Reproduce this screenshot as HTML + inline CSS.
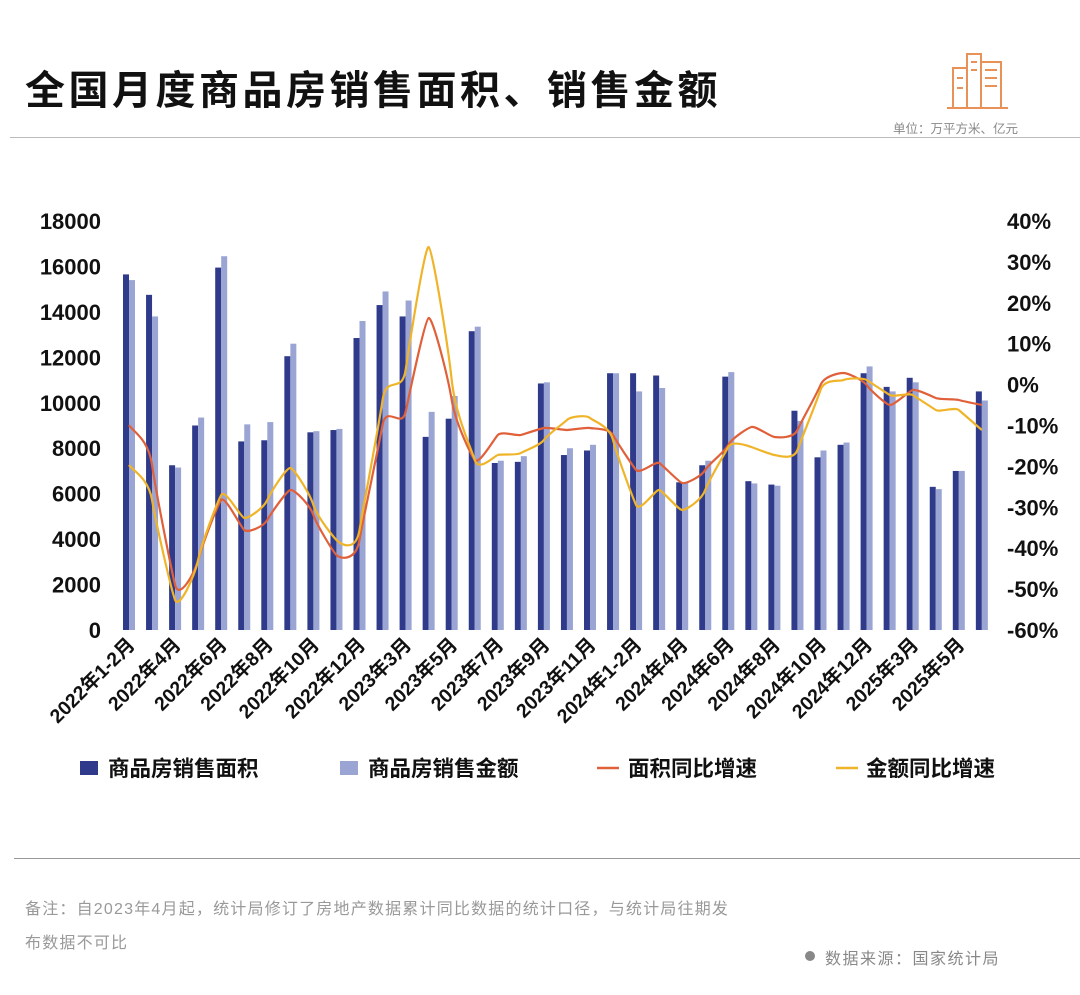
<!DOCTYPE html>
<html><head><meta charset="utf-8"><style>
body{margin:0;width:1080px;height:995px;background:#fff;font-family:"Liberation Sans","Noto Sans CJK SC",sans-serif;overflow:hidden;position:relative}
.t{position:absolute;white-space:nowrap}
</style></head><body>
<div class="t" style="left:25px;top:58px;font-size:40px;font-weight:bold;color:#111;letter-spacing:3.5px">全国月度商品房销售面积、销售金额</div>
<div style="position:absolute;left:10px;top:137px;width:1070px;height:1px;background:#bbb"></div>
<div class="t" style="left:893px;top:118px;font-size:12.5px;color:#888">单位：万平方米、亿元</div>
<svg style="position:absolute;left:945px;top:48px" width="65" height="62" viewBox="0 0 65 62" fill="none" stroke="#e8925a" stroke-width="2">
<rect x="8" y="20" width="14" height="40"/><rect x="22" y="6" width="14" height="54"/><rect x="36" y="14" width="20" height="46"/>
<line x1="26" y1="14" x2="32" y2="14"/><line x1="26" y1="22" x2="32" y2="22"/><line x1="40" y1="22" x2="52" y2="22"/><line x1="40" y1="30" x2="52" y2="30"/><line x1="40" y1="38" x2="52" y2="38"/><line x1="12" y1="30" x2="18" y2="30"/><line x1="12" y1="40" x2="18" y2="40"/><line x1="2" y1="60" x2="63" y2="60"/></svg>
<svg id="c" style="position:absolute;left:0;top:0" width="1080" height="995"></svg>
<div style="position:absolute;left:14px;top:858px;width:1066px;height:1px;background:#999"></div>
<div class="t" style="left:25px;top:895px;font-size:16px;color:#999;letter-spacing:1.2px">备注：自2023年4月起，统计局修订了房地产数据累计同比数据的统计口径，与统计局往期发</div>
<div class="t" style="left:25px;top:929px;font-size:16px;color:#999;letter-spacing:1.2px">布数据不可比</div>
<div style="position:absolute;left:805px;top:951px;width:10px;height:10px;border-radius:50%;background:#888"></div>
<div class="t" style="left:825px;top:945px;font-size:16px;color:#888;letter-spacing:1.5px">数据来源：国家统计局</div>
<script>
const A=[15650,14750,7250,9000,15950,8300,8350,12050,8700,8800,12850,14300,13800,8500,9300,13150,7350,7400,10850,7700,7900,11300,11300,11200,6500,7250,11150,6550,6400,9650,7600,8150,11300,10700,11100,6300,7000,10500];
const B=[15400,13800,7150,9350,16450,9050,9150,12600,8750,8850,13600,14900,14500,9600,10300,13350,7450,7650,10900,8000,8150,11300,10500,10650,6500,7450,11350,6450,6350,9200,7900,8250,11600,10500,10900,6200,7000,10100];
const R=[425,465,585,560,500,530,520,490,515,555,540,425,412,318,400,460,435,435,428,430,428,435,470,463,483,470,445,427,437,430,385,373,385,405,390,398,400,405];
const Y=[465,500,600,560,495,518,500,468,505,540,530,400,370,247,380,460,455,453,440,420,418,440,505,490,510,490,447,447,455,450,390,380,380,395,395,410,410,430];
const L=["2022年1-2月","2022年4月","2022年6月","2022年8月","2022年10月","2022年12月","2023年3月","2023年5月","2023年7月","2023年9月","2023年11月","2024年1-2月","2024年4月","2024年6月","2024年8月","2024年10月","2024年12月","2025年3月","2025年5月"];
let s='';const y0=630,k=409/18000,cx=i=>129+i*23.05;
for(let v=0;v<=18000;v+=2000)s+=`<text x="101" y="${y0-v*k+8}" text-anchor="end" font-size="22" font-weight="bold" fill="#111">${v}</text>`;
for(let p=40,j=0;p>=-60;p-=10,j++)s+=`<text x="1007" y="${221+j*40.9+8}" font-size="22" font-weight="bold" fill="#111">${p}%</text>`;
A.forEach((a,i)=>{const c=cx(i);s+=`<rect x="${c-6}" y="${y0-a*k}" width="6" height="${a*k}" fill="#2f3b8a"/><rect x="${c}" y="${y0-B[i]*k}" width="6" height="${B[i]*k}" fill="#9ba5d4"/>`;});
function path(P){let d=`M${cx(0)},${P[0]}`;for(let i=0;i<P.length-1;i++){const p0=P[Math.max(i-1,0)],p1=P[i],p2=P[i+1],p3=P[Math.min(i+2,P.length-1)];const x1=cx(i),x2=cx(i+1),dx=23.05/6;d+=` C${x1+dx},${p1+(p2-p0)/6} ${x2-dx},${p2-(p3-p1)/6} ${x2},${p2}`;}return d;}
s+=`<path d="${path(R)}" fill="none" stroke="#e0603a" stroke-width="2.2"/><path d="${path(Y)}" fill="none" stroke="#f0b429" stroke-width="2.2"/>`;
L.forEach((t,j)=>{const c=cx(j*2)+7;s+=`<text transform="translate(${c},646) rotate(-45)" text-anchor="end" font-size="19.5" font-weight="bold" fill="#111">${t}</text>`;});
s+=`<rect x="80" y="761" width="18" height="14" fill="#2f3b8a"/><text x="108" y="776" font-size="21.5" font-weight="bold" fill="#111">商品房销售面积</text>`;
s+=`<rect x="340" y="761" width="18" height="14" fill="#9ba5d4"/><text x="368" y="776" font-size="21.5" font-weight="bold" fill="#111">商品房销售金额</text>`;
s+=`<line x1="597" y1="768" x2="619" y2="768" stroke="#e0603a" stroke-width="2.5"/><text x="628" y="776" font-size="21.5" font-weight="bold" fill="#111">面积同比增速</text>`;
s+=`<line x1="836" y1="768" x2="858" y2="768" stroke="#f0b429" stroke-width="2.5"/><text x="866" y="776" font-size="21.5" font-weight="bold" fill="#111">金额同比增速</text>`;
document.getElementById('c').innerHTML=s;
</script>
</body></html>
